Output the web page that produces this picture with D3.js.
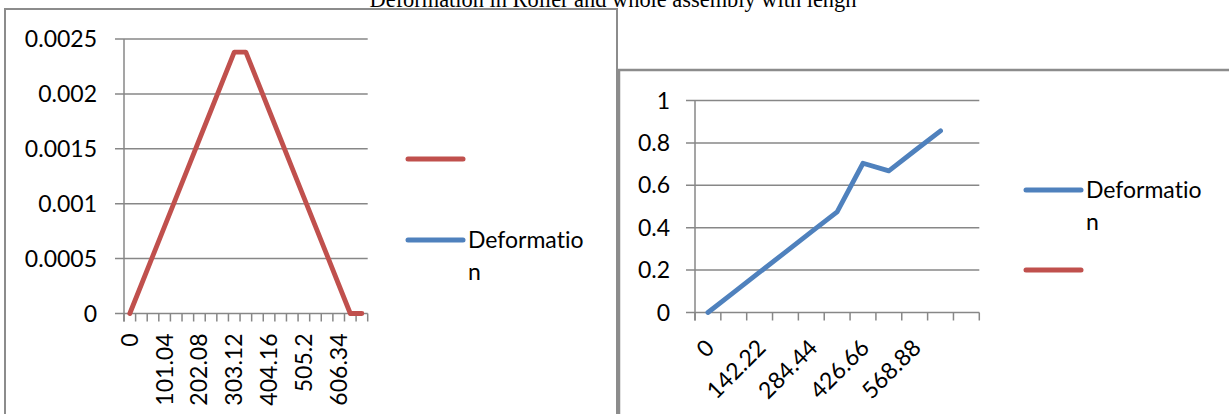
<!DOCTYPE html>
<html><head><meta charset="utf-8">
<script src="https://cdn.jsdelivr.net/npm/d3@7"></script>
<style>
body{margin:0;background:#fff;}
svg{display:block;}
text{font-variant-ligatures:none;font-feature-settings:"liga" 0,"clig" 0;}
.lbl{font-family:Lato,"Open Sans",sans-serif;font-size:23px;fill:#000;}
</style>
</head><body>
<svg id="c" width="1229" height="414"></svg>
<script>
// ---------- data ----------
const titleText = "Deformation in Roller and whole assembly with lengh";

// Left chart: roller
const leftCategories = ["0","33.68","67.36","101.04","134.72","168.4","202.08","235.76","269.44","303.12","336.8","370.48","404.16","437.84","471.52","505.2","538.88","572.56","606.34","640.02","673.7"];
const leftRedValues = [0,0.000264,0.000529,0.000793,0.001058,0.001322,0.001587,0.001851,0.002116,0.00238,0.00238,0.002116,0.001851,0.001587,0.001322,0.001058,0.000793,0.000529,0.000264,0,0];
const leftBlueValues = [];
const leftSeriesNames = ["", "Deformation"];       // legend order: red, blue
const leftYTicks = [0,0.0005,0.001,0.0015,0.002,0.0025];
const leftYTickLabels = ["0","0.0005","0.001","0.0015","0.002","0.0025"];
const leftLabelEvery = 3;

// Right chart: whole assembly
const rightCategories = ["0","71.11","142.22","213.33","284.44","355.55","426.66","497.77","568.88","639.99",""];
const rightBlueValues = [0,0.095,0.19,0.285,0.38,0.475,0.704,0.668,0.763,0.857,null];
const rightRedValues = [];
const rightSeriesNames = ["Deformation", ""];      // legend order: blue, red
const rightYTicks = [0,0.2,0.4,0.6,0.8,1];
const rightYTickLabels = ["0","0.2","0.4","0.6","0.8","1"];
const rightLabelEvery = 2;

// ---------- style ----------
const RED = "#C0504D", BLUE = "#4F81BD", GRID = "#878787", BORDER = "#8c8c8c";

const svg = d3.select("#c");

// title (cut at top like the reference)
svg.append("text").attr("x", 613).attr("y", 7)
  .attr("text-anchor","middle")
  .style("font-family","'Liberation Serif','Times New Roman',serif")
  .style("font-size","22.4px").text(titleText);

// chart frames
svg.append("rect").attr("x",5).attr("y",9).attr("width",612).attr("height",430)
  .attr("fill","none").attr("stroke",BORDER).attr("stroke-width",2);
svg.append("rect").attr("x",619).attr("y",70).attr("width",640).attr("height",380)
  .attr("fill","#fff").attr("stroke",BORDER).attr("stroke-width",2.5);

function wrapText(textSel, str, maxW){
  const lines=[]; let cur="";
  const probe = textSel.append("tspan");
  for(const ch of str){
    probe.text(cur+ch);
    if(probe.node().getComputedTextLength()>maxW && cur.length){ lines.push(cur); cur=ch; }
    else cur+=ch;
  }
  if(cur.length) lines.push(cur);
  probe.remove();
  return lines;
}

function drawChart(o){
  const g = svg.append("g");
  const n = o.categories.length;
  const xEdge = d3.scaleLinear().domain([0,n]).range([o.x0,o.x1]);
  const xBand = d3.scaleBand().domain(d3.range(n)).range([o.x0,o.x1]).padding(0);
  const xc = i => xBand(i) + xBand.bandwidth()/2;
  const y = d3.scaleLinear().domain([0,o.yMax]).range([o.yBottom,o.yTop]);

  g.selectAll(".grid").data(o.yTicks).join("line")
    .attr("x1",o.x0-9).attr("x2",o.x1).attr("y1",d=>y(d)).attr("y2",d=>y(d))
    .attr("stroke",GRID).attr("stroke-width",1.5);
  g.append("line").attr("x1",o.x0).attr("x2",o.x0).attr("y1",y(o.yMax)).attr("y2",o.yBottom+8)
    .attr("stroke",GRID).attr("stroke-width",1.5);
  g.selectAll(".xt").data(d3.range(n+1)).join("line")
    .attr("x1",d=>xEdge(d)).attr("x2",d=>xEdge(d)).attr("y1",o.yBottom).attr("y2",o.yBottom+8)
    .attr("stroke",GRID).attr("stroke-width",1.5);
  g.selectAll(".yl").data(o.yTicks).join("text").attr("class","lbl")
    .attr("x",o.yLabelRight).attr("y",d=>y(d)).attr("dy","0.35em").attr("text-anchor","end")
    .text((d,i)=>o.yTickLabels[i]);
  const labIdx = d3.range(n).filter(i=>i%o.labelEvery===0);
  g.selectAll(".xl").data(labIdx).join("text").attr("class","lbl")
    .attr("text-anchor","end").attr("dy","0.35em")
    .attr("transform",i=> o.rot===-90
        ? `translate(${xc(i)},${o.yBottom+20}) rotate(-90)`
        : `translate(${xc(i)+2},${o.yBottom+31}) rotate(-45)`)
    .text(i=>o.categories[i]);

  o.series.forEach(s=>{
    if(!s.values.length) return;
    const line = d3.line().defined(d=>d!=null).x((d,i)=>xc(i)).y(d=>y(d));
    g.append("path").datum(s.values).attr("d",line).attr("fill","none")
      .attr("stroke",s.color).attr("stroke-width",4.8)
      .attr("stroke-linejoin","round").attr("stroke-linecap","round");
  });

  o.series.forEach((s,k)=>{
    const ly = o.legendY[k];
    g.append("line").attr("x1",o.legendX).attr("x2",o.legendX+55).attr("y1",ly).attr("y2",ly)
      .attr("stroke",s.color).attr("stroke-width",5).attr("stroke-linecap","round");
    if(s.name){
      const t = g.append("text").attr("class","lbl").attr("x",o.legendX+60).attr("y",ly+8);
      const lines = wrapText(t, s.name, 124);
      lines.forEach((l,j)=> t.append("tspan").attr("x",o.legendX+60).attr("y",ly+8+j*32).text(l));
    }
  });
}

drawChart({
  categories:leftCategories, x0:124, x1:367.7, yTop:39, yBottom:313.5, yMax:0.0025,
  yTicks:leftYTicks, yTickLabels:leftYTickLabels, yLabelRight:97, labelEvery:leftLabelEvery, rot:-90,
  series:[{name:leftSeriesNames[0],values:leftRedValues,color:RED},
          {name:leftSeriesNames[1],values:leftBlueValues,color:BLUE}],
  legendX:408, legendY:[159,240]
});
drawChart({
  categories:rightCategories, x0:695, x1:979.3, yTop:100.5, yBottom:312.5, yMax:1,
  yTicks:rightYTicks, yTickLabels:rightYTickLabels, yLabelRight:670, labelEvery:rightLabelEvery, rot:-45,
  series:[{name:rightSeriesNames[0],values:rightBlueValues,color:BLUE},
          {name:rightSeriesNames[1],values:rightRedValues,color:RED}],
  legendX:1026, legendY:[190,270]
});
</script>
</body></html>
